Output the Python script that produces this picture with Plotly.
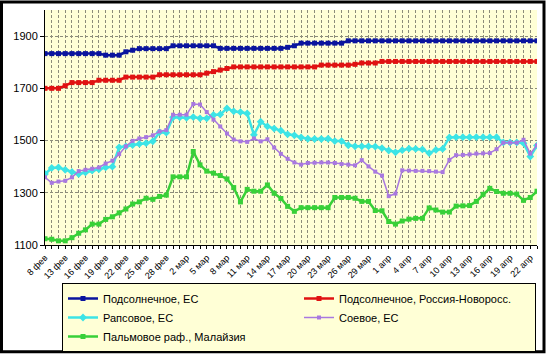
import plotly.graph_objects as go

tick_labels = ["8 фев", "13 фев", "16 фев", "19 фев", "22 фев", "25 фев", "28 фев",
               "2 мар", "5 мар", "8 мар", "11 мар", "14 мар", "17 мар", "20 мар",
               "23 мар", "26 мар", "29 мар", "1 апр", "4 апр", "7 апр", "10 апр",
               "13 апр", "16 апр", "19 апр", "22 апр"]

sun_eu = ([1833] * 9 + [1827] * 3 + [1840, 1846] + [1852] * 5 + [1863] * 7 +
          [1853] * 10 + [1857, 1863] + [1873] * 7 + [1882] * 29)

sun_ru = ([1700] * 3 + [1710] + [1722] * 4 + [1731] * 4 + [1743] * 5 + [1752] * 7 +
          [1758, 1764, 1770, 1776] + [1782] * 13 + [1789] * 5 + [1792] +
          [1797] * 3 + [1803] * 24)

rape_eu = [1372, 1395, 1397, 1388, 1380, 1372, 1378, 1385, 1390, 1397,
           1400, 1474, 1478, 1483, 1487, 1490, 1497, 1532, 1530, 1589,
           1589, 1587, 1590, 1585, 1585, 1598, 1600, 1623, 1612, 1609,
           1604, 1522, 1572, 1554, 1546, 1538, 1524, 1520, 1512, 1507,
           1506, 1506, 1507, 1498, 1498, 1482, 1478, 1478, 1478, 1477,
           1471, 1462, 1455, 1463, 1469, 1468, 1466, 1452, 1464, 1468,
           1512, 1513, 1513, 1513, 1513, 1513, 1513, 1513, 1493, 1493,
           1493, 1490, 1439, 1481]

soy_eu = [1359, 1338, 1343, 1346, 1359, 1383, 1388, 1392, 1397, 1412,
          1423, 1448, 1478, 1499, 1508, 1513, 1520, 1535, 1540, 1599,
          1599, 1599, 1640, 1638, 1609, 1580, 1554, 1527, 1504, 1497,
          1495, 1508, 1497, 1505, 1473, 1449, 1430, 1416, 1408, 1414,
          1415, 1416, 1416, 1414, 1410, 1408, 1405, 1425, 1401, 1381,
          1366, 1287, 1297, 1386, 1385, 1384, 1384, 1383, 1381, 1379,
          1426, 1444, 1445, 1447, 1450, 1451, 1452, 1467, 1492, 1492,
          1492, 1503, 1450, 1482]

palm_my = [1124, 1122, 1116, 1116, 1128, 1145, 1158, 1180, 1180, 1198,
           1208, 1223, 1238, 1257, 1265, 1279, 1275, 1286, 1291, 1361,
           1361, 1361, 1458, 1407, 1383, 1375, 1366, 1353, 1320, 1265,
           1313, 1306, 1306, 1330, 1298, 1278, 1248, 1229, 1243, 1243,
           1243, 1243, 1243, 1282, 1282, 1282, 1279, 1267, 1267, 1232,
           1231, 1190, 1180, 1192, 1199, 1202, 1202, 1242, 1234, 1226,
           1226, 1249, 1250, 1251, 1267, 1294, 1317, 1305, 1298, 1298,
           1295, 1271, 1282, 1306]

series_names = ["Подсолнечное, ЕС", "Подсолнечное, Россия-Новоросс.",
                "Рапсовое, ЕС", "Соевое, ЕС", "Пальмовое раф., Малайзия"]
series_values = [sun_eu, sun_ru, rape_eu, soy_eu, palm_my]
colors = ["#0A149E", "#E01212", "#3CE4E6", "#A878E0", "#38D038"]
widths = [2.5, 2.5, 2.5, 1.5, 2.5]
symbols = ["square", "square", "diamond", "square", "square"]
msizes = [5, 5, 6, 4, 5]

n = len(sun_eu)
x = list(range(n))

fig = go.Figure()
for name, vals, c, w, s, ms in zip(series_names, series_values, colors, widths, symbols, msizes):
    fig.add_trace(go.Scatter(x=x, y=vals, name=name, mode="lines+markers",
                             line=dict(color=c, width=w),
                             marker=dict(color=c, size=ms, symbol=s)))

W, H = 548, 356
L, R, T, B = 45, 11, 9.5, 111
pw, ph = W - L - R, H - T - B

def px(xp):
    return (xp - L) / pw

def py(yp):
    return (H - B - yp) / ph

fig.update_layout(
    width=W, height=H,
    margin=dict(l=L, r=R, t=T, b=B, pad=0, autoexpand=False),
    paper_bgcolor="white",
    plot_bgcolor="#FFFFD6",
    font=dict(family="Liberation Sans, Arial, sans-serif", size=11, color="black"),
    showlegend=True,
    legend=dict(orientation="h", xref="container", yref="container",
                x=62 / W, xanchor="left", y=1 - 283 / H, yanchor="top",
                bgcolor="#FFFFD6", bordercolor="black", borderwidth=1,
                entrywidth=191, entrywidthmode="pixels", itemwidth=30,
                font=dict(size=11), tracegroupgap=0),
    shapes=[dict(type="rect", xref="paper", yref="paper",
                 x0=px(1.5), x1=px(544), y0=py(352), y1=py(1.5),
                 line=dict(color="black", width=3), layer="above")],
    xaxis=dict(range=[0, n - 1], tickmode="array",
               tickvals=list(range(0, n, 3))[:len(tick_labels)], ticktext=tick_labels,
               tickangle=-45, tickfont=dict(size=9),
               showline=True, linecolor="black", linewidth=1,
               ticks="outside", ticklen=3, tickcolor="black",
               showgrid=True, gridcolor="#8C8C7A", gridwidth=1, griddash="3px,2px",
               minor=dict(dtick=1, showgrid=True, gridcolor="#8C8C7A", griddash="3px,2px",
                          ticks="outside", ticklen=3, tickcolor="black"),
               zeroline=False, fixedrange=True),
    yaxis=dict(range=[1100, 2000], tickmode="array", tickvals=[1100, 1300, 1500, 1700, 1900],
               showline=True, linecolor="black", linewidth=1,
               ticks="outside", ticklen=4, tickcolor="black",
               showgrid=True, gridcolor="#8C8C7A", gridwidth=1, griddash="3px,2px",
               zeroline=False, tickfont=dict(size=11), fixedrange=True),
)

fig.write_html("out.html",
               config={"displayModeBar": False},
               post_script="document.body.style.margin='0';document.body.style.overflow='hidden';")
